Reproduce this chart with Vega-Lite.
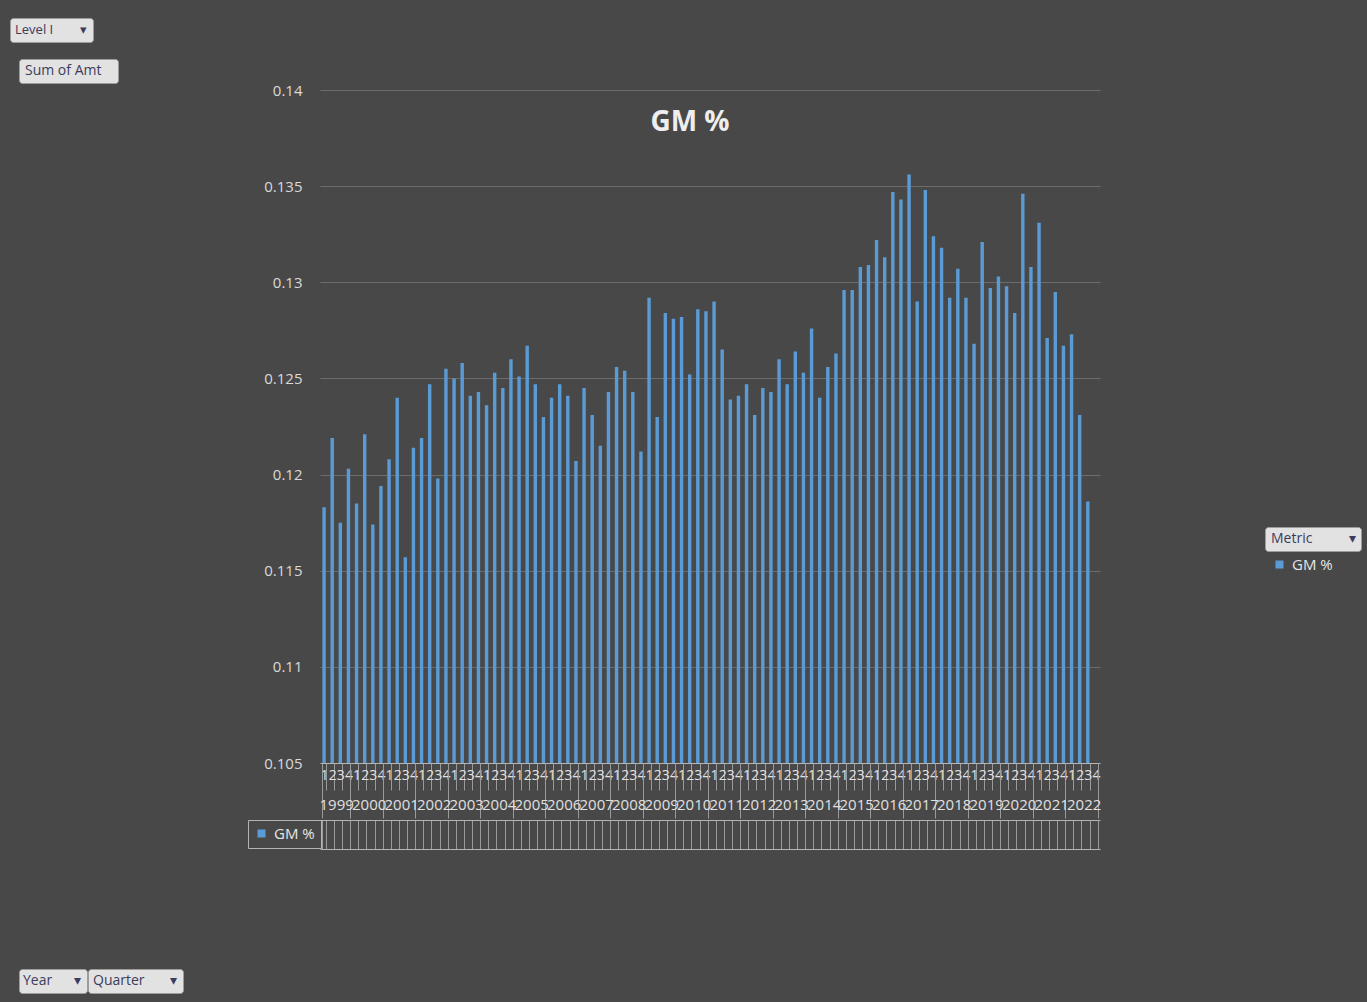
{
  "$schema": "https://vega.github.io/schema/vega-lite/v6.json",
  "autosize": {"type": "none"},
  "padding": {"left": 320, "top": 90, "right": 267, "bottom": 239},
  "width": 780,
  "height": 673,
  "background": "#484848",
  "config": {
    "view": {"stroke": null},
    "font": "Open Sans",
    "legend": {"labelFont": "Open Sans", "titleFont": "Open Sans"},
    "axis": {"labelFont": "Open Sans"}
  },
  "title": {"text": "GM %", "fontSize": 28, "fontWeight": "bold", "color": "#eeeeee", "anchor": "middle", "frame": "group", "offset": 0, "baseline": "alphabetic", "dx": -20, "dy": 141},
  "data": {"values": [
    {"period": "1999-1", "metric": "GM %", "gm": 0.1183}, {"period": "1999-2", "metric": "GM %", "gm": 0.1219}, {"period": "1999-3", "metric": "GM %", "gm": 0.1175}, {"period": "1999-4", "metric": "GM %", "gm": 0.1203},
    {"period": "2000-1", "metric": "GM %", "gm": 0.1185}, {"period": "2000-2", "metric": "GM %", "gm": 0.1221}, {"period": "2000-3", "metric": "GM %", "gm": 0.1174}, {"period": "2000-4", "metric": "GM %", "gm": 0.1194},
    {"period": "2001-1", "metric": "GM %", "gm": 0.1208}, {"period": "2001-2", "metric": "GM %", "gm": 0.1240}, {"period": "2001-3", "metric": "GM %", "gm": 0.1157}, {"period": "2001-4", "metric": "GM %", "gm": 0.1214},
    {"period": "2002-1", "metric": "GM %", "gm": 0.1219}, {"period": "2002-2", "metric": "GM %", "gm": 0.1247}, {"period": "2002-3", "metric": "GM %", "gm": 0.1198}, {"period": "2002-4", "metric": "GM %", "gm": 0.1255},
    {"period": "2003-1", "metric": "GM %", "gm": 0.1250}, {"period": "2003-2", "metric": "GM %", "gm": 0.1258}, {"period": "2003-3", "metric": "GM %", "gm": 0.1241}, {"period": "2003-4", "metric": "GM %", "gm": 0.1243},
    {"period": "2004-1", "metric": "GM %", "gm": 0.1236}, {"period": "2004-2", "metric": "GM %", "gm": 0.1253}, {"period": "2004-3", "metric": "GM %", "gm": 0.1245}, {"period": "2004-4", "metric": "GM %", "gm": 0.1260},
    {"period": "2005-1", "metric": "GM %", "gm": 0.1251}, {"period": "2005-2", "metric": "GM %", "gm": 0.1267}, {"period": "2005-3", "metric": "GM %", "gm": 0.1247}, {"period": "2005-4", "metric": "GM %", "gm": 0.1230},
    {"period": "2006-1", "metric": "GM %", "gm": 0.1240}, {"period": "2006-2", "metric": "GM %", "gm": 0.1247}, {"period": "2006-3", "metric": "GM %", "gm": 0.1241}, {"period": "2006-4", "metric": "GM %", "gm": 0.1207},
    {"period": "2007-1", "metric": "GM %", "gm": 0.1245}, {"period": "2007-2", "metric": "GM %", "gm": 0.1231}, {"period": "2007-3", "metric": "GM %", "gm": 0.1215}, {"period": "2007-4", "metric": "GM %", "gm": 0.1243},
    {"period": "2008-1", "metric": "GM %", "gm": 0.1256}, {"period": "2008-2", "metric": "GM %", "gm": 0.1254}, {"period": "2008-3", "metric": "GM %", "gm": 0.1243}, {"period": "2008-4", "metric": "GM %", "gm": 0.1212},
    {"period": "2009-1", "metric": "GM %", "gm": 0.1292}, {"period": "2009-2", "metric": "GM %", "gm": 0.1230}, {"period": "2009-3", "metric": "GM %", "gm": 0.1284}, {"period": "2009-4", "metric": "GM %", "gm": 0.1281},
    {"period": "2010-1", "metric": "GM %", "gm": 0.1282}, {"period": "2010-2", "metric": "GM %", "gm": 0.1252}, {"period": "2010-3", "metric": "GM %", "gm": 0.1286}, {"period": "2010-4", "metric": "GM %", "gm": 0.1285},
    {"period": "2011-1", "metric": "GM %", "gm": 0.1290}, {"period": "2011-2", "metric": "GM %", "gm": 0.1265}, {"period": "2011-3", "metric": "GM %", "gm": 0.1239}, {"period": "2011-4", "metric": "GM %", "gm": 0.1241},
    {"period": "2012-1", "metric": "GM %", "gm": 0.1247}, {"period": "2012-2", "metric": "GM %", "gm": 0.1231}, {"period": "2012-3", "metric": "GM %", "gm": 0.1245}, {"period": "2012-4", "metric": "GM %", "gm": 0.1243},
    {"period": "2013-1", "metric": "GM %", "gm": 0.1260}, {"period": "2013-2", "metric": "GM %", "gm": 0.1247}, {"period": "2013-3", "metric": "GM %", "gm": 0.1264}, {"period": "2013-4", "metric": "GM %", "gm": 0.1253},
    {"period": "2014-1", "metric": "GM %", "gm": 0.1276}, {"period": "2014-2", "metric": "GM %", "gm": 0.1240}, {"period": "2014-3", "metric": "GM %", "gm": 0.1256}, {"period": "2014-4", "metric": "GM %", "gm": 0.1263},
    {"period": "2015-1", "metric": "GM %", "gm": 0.1296}, {"period": "2015-2", "metric": "GM %", "gm": 0.1296}, {"period": "2015-3", "metric": "GM %", "gm": 0.1308}, {"period": "2015-4", "metric": "GM %", "gm": 0.1309},
    {"period": "2016-1", "metric": "GM %", "gm": 0.1322}, {"period": "2016-2", "metric": "GM %", "gm": 0.1313}, {"period": "2016-3", "metric": "GM %", "gm": 0.1347}, {"period": "2016-4", "metric": "GM %", "gm": 0.1343},
    {"period": "2017-1", "metric": "GM %", "gm": 0.1356}, {"period": "2017-2", "metric": "GM %", "gm": 0.1290}, {"period": "2017-3", "metric": "GM %", "gm": 0.1348}, {"period": "2017-4", "metric": "GM %", "gm": 0.1324},
    {"period": "2018-1", "metric": "GM %", "gm": 0.1318}, {"period": "2018-2", "metric": "GM %", "gm": 0.1292}, {"period": "2018-3", "metric": "GM %", "gm": 0.1307}, {"period": "2018-4", "metric": "GM %", "gm": 0.1292},
    {"period": "2019-1", "metric": "GM %", "gm": 0.1268}, {"period": "2019-2", "metric": "GM %", "gm": 0.1321}, {"period": "2019-3", "metric": "GM %", "gm": 0.1297}, {"period": "2019-4", "metric": "GM %", "gm": 0.1303},
    {"period": "2020-1", "metric": "GM %", "gm": 0.1298}, {"period": "2020-2", "metric": "GM %", "gm": 0.1284}, {"period": "2020-3", "metric": "GM %", "gm": 0.1346}, {"period": "2020-4", "metric": "GM %", "gm": 0.1308},
    {"period": "2021-1", "metric": "GM %", "gm": 0.1331}, {"period": "2021-2", "metric": "GM %", "gm": 0.1271}, {"period": "2021-3", "metric": "GM %", "gm": 0.1295}, {"period": "2021-4", "metric": "GM %", "gm": 0.1267},
    {"period": "2022-1", "metric": "GM %", "gm": 0.1273}, {"period": "2022-2", "metric": "GM %", "gm": 0.1231}, {"period": "2022-3", "metric": "GM %", "gm": 0.1186}
  ]},
  "layer": [
    {
      "mark": {"type": "bar", "clip": true},
      "encoding": {
        "x": {
          "field": "period", "type": "ordinal",
          "scale": {
            "domain": ["1999-1","1999-2","1999-3","1999-4","2000-1","2000-2","2000-3","2000-4","2001-1","2001-2","2001-3","2001-4","2002-1","2002-2","2002-3","2002-4","2003-1","2003-2","2003-3","2003-4","2004-1","2004-2","2004-3","2004-4","2005-1","2005-2","2005-3","2005-4","2006-1","2006-2","2006-3","2006-4","2007-1","2007-2","2007-3","2007-4","2008-1","2008-2","2008-3","2008-4","2009-1","2009-2","2009-3","2009-4","2010-1","2010-2","2010-3","2010-4","2011-1","2011-2","2011-3","2011-4","2012-1","2012-2","2012-3","2012-4","2013-1","2013-2","2013-3","2013-4","2014-1","2014-2","2014-3","2014-4","2015-1","2015-2","2015-3","2015-4","2016-1","2016-2","2016-3","2016-4","2017-1","2017-2","2017-3","2017-4","2018-1","2018-2","2018-3","2018-4","2019-1","2019-2","2019-3","2019-4","2020-1","2020-2","2020-3","2020-4","2021-1","2021-2","2021-3","2021-4","2022-1","2022-2","2022-3","2022-4"],
            "paddingInner": 0.58, "paddingOuter": 0.29
          },
          "axis": {
            "orient": "bottom", "title": null, "labelExpr": "isString(datum.value) ? substring(datum.value, 5) : ''",
            "tickBand": "extent", "tickSize": 27, "tickColor": "#9a9a9a", "tickWidth": 1,
            "domainColor": "#b4b4b4", "labelColor": "#e0e0e0", "labelFontSize": 14,
            "labelPadding": -22, "labelAngle": 0, "labelOverlap": false, "labelBound": false,
            "labelFlush": false, "grid": false
          }
        },
        "y": {
          "field": "gm", "type": "quantitative",
          "scale": {"domain": [0.105, 0.14], "zero": false, "nice": false},
          "axis": {
            "title": null, "values": [0.105, 0.11, 0.115, 0.12, 0.125, 0.13, 0.135, 0.14],
            "format": "~g", "domain": false, "ticks": false, "labelPadding": 18,
            "labelFontSize": 15, "labelColor": "#d9d9d9", "gridColor": "#6c6c6c", "gridWidth": 1
          }
        },
        "color": {
          "field": "metric", "type": "nominal",
          "scale": {"range": ["#5B9BD5"]},
          "legend": {
            "orient": "none", "legendX": -72, "legendY": 730, "title": null, "padding": 6,
            "strokeColor": "#b4b4b4", "symbolType": "square", "symbolSize": 64,
            "labelColor": "#e6e6e6", "labelFontSize": 15, "labelOffset": 5,
            "labelExpr": "datum.label + '\u00a0\u00a0'"
          }
        }
      }
    },
    {
      "transform": [{"filter": "false"}],
      "mark": {"type": "point", "filled": true, "color": "#5B9BD5", "shape": "square", "opacity": 1},
      "encoding": {
        "x": {
          "field": "period", "type": "ordinal",
          "axis": {
            "orient": "bottom", "title": null,
            "labelExpr": "isString(datum.value) && substring(datum.value, 5) == '2' ? substring(datum.value, 0, 4) : ''",
            "labelOffset": 4, "tickBand": "extent", "tickSize": 55, "tickColor": "#9a9a9a",
            "tickOpacity": {"condition": {"test": "datum.extra || substring(datum.value, 5) == '4'", "value": 1}, "value": 0},
            "domain": false, "labelColor": "#e0e0e0", "labelFontSize": 15, "labelPadding": -21,
            "labelAngle": 0, "labelOverlap": false, "labelBound": false, "labelFlush": false, "grid": false
          }
        },
        "size": {
          "field": "metric", "type": "ordinal",
          "scale": {"domain": ["GM %"], "range": [64, 64]},
          "legend": {
            "orient": "none", "legendX": 952, "legendY": 467, "title": null, "padding": 0,
            "symbolType": "square", "symbolFillColor": "#5B9BD5", "symbolStrokeWidth": 0,
            "labelColor": "#e6e6e6", "labelFontSize": 15, "labelOffset": 5
          }
        }
      }
    },
    {
      "transform": [{"filter": "false"}],
      "mark": {"type": "point", "filled": true},
      "encoding": {
        "x": {
          "field": "period", "type": "ordinal",
          "axis": {
            "orient": "bottom", "title": null, "offset": 57, "labels": false,
            "tickBand": "extent", "tickSize": 29, "tickColor": "#9a9a9a", "domainColor": "#b4b4b4", "grid": false
          }
        },
        "fill": {
          "field": "metric", "type": "nominal",
          "scale": {"domain": ["Level I"], "range": ["#e2e2e2"]},
          "legend": {
            "orient": "none", "legendX": -310, "legendY": -72, "title": null, "padding": 5,
            "fillColor": "#e2e2e2", "strokeColor": "#9c9c9c", "cornerRadius": 3,
            "symbolOpacity": 0, "symbolSize": 1, "labelOffset": -13,
            "labelColor": "#3c3c5c", "labelFontSize": 13,
            "labelExpr": "'Level I\u00a0\u00a0\u00a0\u00a0\u00a0\u00a0\u00a0\u00a0\u25be'"
          }
        }
      }
    },
    {
      "transform": [{"filter": "false"}],
      "mark": {"type": "point"},
      "encoding": {
        "x": {
          "field": "period", "type": "ordinal",
          "axis": {
            "orient": "bottom", "title": null, "offset": 86, "labels": false, "ticks": false,
            "domainColor": "#b4b4b4", "grid": false
          }
        },
        "strokeDash": {
          "field": "metric", "type": "nominal",
          "scale": {"domain": ["Sum of Amt"], "range": [[1, 0]]},
          "legend": {
            "orient": "none", "legendX": -301, "legendY": -31, "title": null, "padding": 5,
            "fillColor": "#e2e2e2", "strokeColor": "#9c9c9c", "cornerRadius": 3,
            "symbolOpacity": 0, "symbolSize": 1, "labelOffset": -13,
            "labelColor": "#3c3c5c", "labelFontSize": 14,
            "labelExpr": "'Sum of Amt\u00a0\u00a0\u00a0\u200b'"
          }
        }
      }
    },
    {
      "transform": [{"filter": "false"}],
      "mark": {"type": "point"},
      "encoding": {
        "stroke": {
          "field": "metric", "type": "nominal",
          "scale": {"domain": ["Year"], "range": ["#e2e2e2"]},
          "legend": {
            "orient": "none", "legendX": -301, "legendY": 879, "title": null, "padding": 5,
            "fillColor": "#e2e2e2", "strokeColor": "#9c9c9c", "cornerRadius": 3,
            "symbolOpacity": 0, "symbolSize": 1, "labelOffset": -15,
            "labelColor": "#3c3c5c", "labelFontSize": 14,
            "labelExpr": "'Year\u00a0\u00a0\u00a0\u00a0\u00a0\u00a0\u25be'"
          }
        }
      }
    },
    {
      "transform": [{"filter": "false"}],
      "mark": {"type": "point"},
      "encoding": {
        "opacity": {
          "field": "metric", "type": "ordinal",
          "scale": {"domain": ["Quarter"], "range": [0]},
          "legend": {
            "orient": "none", "legendX": -232, "legendY": 879, "title": null, "padding": 5,
            "fillColor": "#e2e2e2", "strokeColor": "#9c9c9c", "cornerRadius": 3,
            "symbolOpacity": 0, "symbolSize": 1, "symbolFillColor": "#e2e2e2", "symbolStrokeColor": "#e2e2e2",
            "labelOffset": -14,
            "labelColor": "#3c3c5c", "labelFontSize": 14,
            "labelExpr": "'Quarter\u00a0\u00a0\u00a0\u00a0\u00a0\u00a0\u00a0\u25be'"
          }
        }
      }
    },
    {
      "transform": [{"filter": "false"}],
      "mark": {"type": "point"},
      "encoding": {
        "shape": {
          "field": "metric", "type": "nominal",
          "scale": {"domain": ["Metric"], "range": ["square"]},
          "legend": {
            "orient": "none", "legendX": 945, "legendY": 437, "title": null, "padding": 5,
            "fillColor": "#e2e2e2", "strokeColor": "#9c9c9c", "cornerRadius": 3,
            "symbolOpacity": 0, "symbolSize": 1, "symbolFillColor": "#e2e2e2", "symbolStrokeColor": "#e2e2e2",
            "labelOffset": -13,
            "labelColor": "#3c3c5c", "labelFontSize": 14,
            "labelExpr": "'Metric\u00a0\u00a0\u00a0\u00a0\u00a0\u00a0\u00a0\u00a0\u00a0\u00a0\u25be'"
          }
        }
      }
    }
  ],
  "resolve": {"axis": {"x": "independent"}}
}
